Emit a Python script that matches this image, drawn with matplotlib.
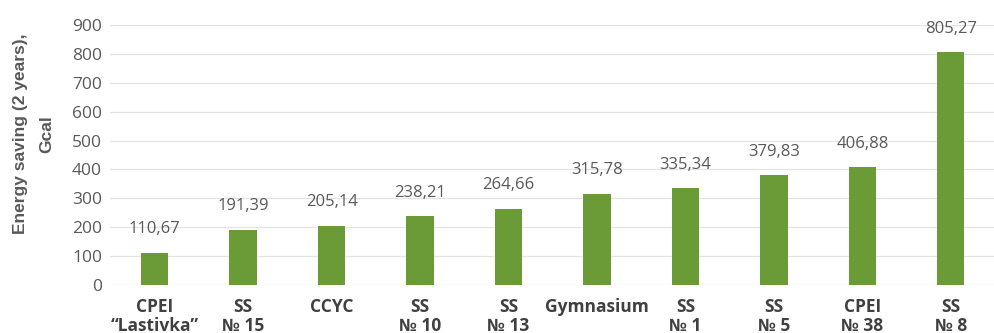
import matplotlib
matplotlib.use('Agg')
import matplotlib.pyplot as plt

plt.rcParams.update({'font.family': ['Open Sans', 'DejaVu Sans'], 'font.size': 10})

# energy saving per building over two years, Gcal
labels = ['CPEI\n“Lastivka”', 'SS\n№ 15', 'CCYC', 'SS\n№ 10', 'SS\n№ 13',
          'Gymnasium', 'SS\n№ 1', 'SS\n№ 5', 'CPEI\n№ 38', 'SS\n№ 8']
savings = [110.67, 191.39, 205.14, 238.21, 264.66, 315.78, 335.34, 379.83, 406.88, 805.27]
yticks = list(range(0, 901, 100))

GREEN = '#6a9b37'
GREY = '#595959'

fig = plt.figure(figsize=(9.95, 3.33), dpi=100)
ax = fig.add_axes([0.111, 0.144, 0.889, 0.781])

x = range(len(savings))
ax.bar(x, savings, width=0.31, color=GREEN, zorder=3)
for i, v in zip(x, savings):
    ax.annotate(f'{v:.2f}'.replace('.', ','), (i, v), xytext=(0, 17),
                textcoords='offset points', ha='center', va='center',
                fontsize=12, color=GREY)

ax.set_xlim(-0.5, len(savings) - 0.5)
ax.set_ylim(0, 900)
ax.set_yticks(yticks)
ax.set_yticklabels([str(t) for t in yticks], fontsize=12.5, color=GREY)
ax.set_xticks(list(x))
ax.set_xticklabels(labels, fontsize=12.5, weight='bold', color='#404040',
                   va='top', linespacing=1.1)
ax.grid(axis='y', color='#e4e4e4', lw=0.9, zorder=0)
ax.tick_params(axis='y', length=0, pad=6)
ax.tick_params(axis='x', length=0, pad=9)
for s in ax.spines.values():
    s.set_visible(False)

ax.set_ylabel('Energy saving (2 years),\nGcal', fontsize=12.5, weight='bold',
              color=GREY, family='Liberation Sans', labelpad=13, linespacing=1.9)
ax.yaxis.label.set_y(0.58)

fig.savefig('out.png', dpi=100, facecolor='white')
